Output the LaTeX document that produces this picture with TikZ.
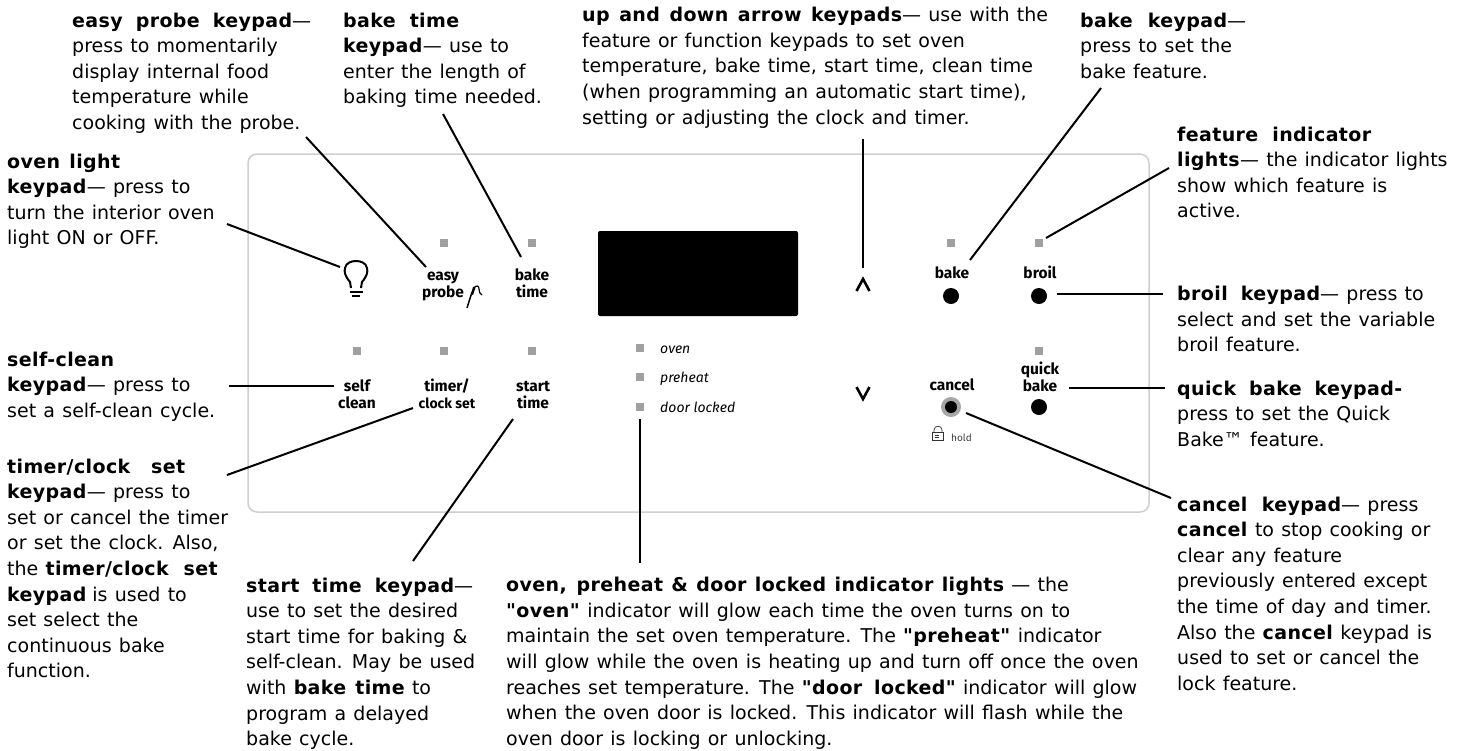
\documentclass[tikz,border=0pt]{standalone}
\usepackage{fontspec}
\newfontfamily\descfont{DejaVu Sans}[WordSpace=1.2,BoldFeatures={LetterSpace=2}]
\newfontfamily\panelfont{Fira Sans}
\definecolor{ledgrey}{HTML}{A0A0A0}
\definecolor{panelgrey}{HTML}{CFCFCF}
\newcommand{\bh}[2]{\hbox to #1pt{\bfseries\spaceskip=2pt plus 1fil #2}}
\tikzset{
  desc/.style={anchor=base west,inner sep=0pt,align=left,text=black,font=\descfont\fontsize{19}{25.6}\selectfont},
  conn/.style={draw=black,line width=2pt},
  led/.style={fill=ledgrey,draw=none,minimum size=8pt,inner sep=0pt,rectangle},
  keyl/.style={anchor=base,inner sep=0pt,text=black,font=\panelfont\bfseries\fontsize{15.5}{17.3}\selectfont},
  keys/.style={anchor=base,inner sep=0pt,text=black,font=\panelfont\bfseries\fontsize{14}{17.3}\selectfont},
  ital/.style={anchor=base west,inner sep=0pt,text=black,font=\panelfont\itshape\fontsize{14}{16}\selectfont},
  btn/.style={circle,fill=black,draw=none,minimum size=16pt,inner sep=0pt},
}
\begin{document}
\begin{tikzpicture}[x=1pt,y=-1pt]
\useasboundingbox (0,0) rectangle (1466,750);
\fill[white] (0,0) rectangle (1466,750);
% panel
\node[draw=panelgrey,line width=1.5pt,rounded corners=9pt,minimum width=901pt,minimum height=358pt,inner sep=0pt] (panel) at (698.5,333) {};
\node[fill=black,rounded corners=2pt,minimum width=200pt,minimum height=85pt,inner sep=0pt] (display) at (698,273.5) {};
% descriptions (placed by the baseline of the last line)
\node[desc] (dprobe) at (72,129.4) {\bh{220}{easy probe keypad}—\\press to momentarily\\display internal food\\temperature while\\cooking with the probe.};
\node[desc] (dbake) at (343,103.8) {\bh{116}{bake time}\\\textbf{keypad}— use to\\enter the length of\\baking time needed.};
\node[desc] (dlight) at (7,244.8) {\bh{113}{oven light}\\\textbf{keypad}— press to\\turn the interior oven\\light ON or OFF.};
\node[desc] (dself) at (7,417.2) {\textbf{self-clean}\\\textbf{keypad}— press to\\set a self-clean cycle.};
\node[desc] (dtimer) at (7,677.8) {\bh{178}{timer/clock set}\\\textbf{keypad}— press to\\set or cancel the timer\\or set the clock. Also,\\the \bh{172}{timer/clock set}\\\bh{78}{keypad} is used to\\set select the\\continuous bake\\function.};
\node[desc] (dstart) at (246,745.6) {\bh{208}{start time keypad}—\\use to set the desired\\start time for baking \&\\self-clean. May be used\\with \bh{111}{bake time} to\\program a delayed\\bake cycle.};
\node[desc] (darrow) at (582,124.1) {\bh{320}{up and down arrow keypads}— use with the\\feature or function keypads to set oven\\temperature, bake time, start time, clean time\\(when programming an automatic start time),\\setting or adjusting the clock and timer.};
\node[desc] (dbk) at (1080,78.2) {\bh{147}{bake keypad}—\\press to set the\\bake feature.};
\node[desc] (dfeat) at (1177,217.8) {\bh{194}{feature indicator}\\\textbf{lights}— the indicator lights\\show which feature is\\active.};
\node[desc] (dbroil) at (1177,351.6) {\bh{143}{broil keypad}— press to\\select and set the variable\\broil feature.};
\node[desc] (dquick) at (1177,446.2) {\bh{225}{quick bake keypad-}\\press to set the Quick\\Bake™ feature.};
\node[desc] (dcancel) at (1177,690.2) {\bh{164}{cancel keypad}— press\\\textbf{cancel} to stop cooking or\\clear any feature\\previously entered except\\the time of day and timer.\\Also the \textbf{cancel} keypad is\\used to set or cancel the\\lock feature.};
\node[desc] (doven) at (506,745.3) {\bh{498}{oven, preheat \& door locked indicator lights} — the\\\textbf{"oven"} indicator will glow each time the oven turns on to\\maintain the set oven temperature. The \textbf{"preheat"} indicator\\will glow while the oven is heating up and turn off once the oven\\reaches set temperature. The \bh{154}{"door locked"} indicator will glow\\when the oven door is locked. This indicator will flash while the\\oven door is locking or unlocking.};
% LEDs
\foreach \n/\x/\y in {l1/444/243,l2/532/243,l3/357/351,l4/444/351,l5/532/351,l6/951/243,l7/1039/243,l8/1039/351,l9/640/348,l10/640/377,l11/640/407}
  \node[led] (\n) at (\x,\y) {};
% key labels
\node[keyl] (kw1) at (443,280) {easy};
\node[keyl] (kw2) at (443,297) {probe};
\node[keyl] (kw3) at (532,280) {bake};
\node[keyl] (kw4) at (532,297) {time};
\node[keyl] (kw5) at (357,391) {self};
\node[keyl] (kw6) at (357,408) {clean};
\node[keyl] (kw7) at (447,391) {timer/};
\node[keys] (kw8) at (447,408) {clock set};
\node[keyl] (kw9) at (533,391) {start};
\node[keyl] (kw10) at (533,408) {time};
\node[keyl] (kw11) at (952,278) {bake};
\node[keyl] (kw12) at (1040,278) {broil};
\node[keyl] (kw13) at (1040,374) {quick};
\node[keyl] (kw14) at (1040,391) {bake};
\node[keyl] (kw15) at (952,390) {cancel};
\node[ital] (i1) at (660,353) {oven};
\node[ital] (i2) at (660,382) {preheat};
\node[ital] (i3) at (660,412) {door locked};
\node[anchor=base west,inner sep=0pt,text=black!75,font=\panelfont\fontsize{10}{12}\selectfont] (hold) at (951,441) {hold};
% buttons
\node[btn] (b1) at (951,296) {};
\node[btn] (b2) at (1039,296) {};
\node[btn] (b3) at (1039,407) {};
\node[circle,fill=gray!70,minimum size=20pt,inner sep=0pt] (b4o) at (951,407) {};
\node[circle,fill=black,minimum size=12pt,inner sep=0pt] (b4) at (951,407) {};
% arrows
\draw[line width=2.6pt] (856.5,291) -- (863,279) -- (869.5,291);
\draw[line width=2.6pt] (856.5,387) -- (863,399) -- (869.5,387);
% bulb
\draw[line width=2pt,line join=round] (351,288) -- (350,282) .. controls (345,276) and (344,272) .. (345,268) .. controls (346,263) and (351,261) .. (356,261) .. controls (361,261) and (366,263) .. (367,268) .. controls (368,272) and (367,276) .. (362,282) -- (361,288);
\draw[line width=1.8pt] (350,292) -- (363,292);
\draw[line width=1.8pt] (352,296) -- (360,296);
% probe icon
\draw[line width=1.5pt] (467,308) -- (472,292);
\fill (471,294) -- (473,287) .. controls (474,286) and (475,286) .. (476,286) -- (473,295) -- cycle;
\draw[line width=1.2pt] (475,286.5) .. controls (477,285) and (479,286) .. (479,289) .. controls (479,292) and (480,294) .. (482,295);
% lock icon
\draw[line width=.7pt,black!80] (932.5,432) rectangle (943.5,440);
\draw[line width=.7pt,black!80] (934,432) -- (934,430) .. controls (934,425) and (942,425) .. (942,430) -- (942,432);
\draw[line width=.7pt,black!80] (934.5,435) -- (939,435) (934.5,437.5) -- (939,437.5);
% connector ends
\foreach \n/\x/\y in {a1/306/137,a2/426/267,a3/443/114,a4/521/257,a5/227/224,a6/340/267,a7/229/386,a8/334/386,a9/227/475,a10/413/408,a11/413/561,a12/513/419,a13/863/139,a14/863/268,a15/1101/88,a16/970/260,a17/1169/168,a18/1046/238,a19/1057/294,a20/1163/294,a21/1069/388,a22/1165/388,a23/966/413,a24/1171/498,a25/640/419,a26/640/563}
  \coordinate (\n) at (\x,\y);
\foreach \p/\q in {a1/a2,a3/a4,a5/a6,a7/a8,a9/a10,a11/a12,a13/a14,a15/a16,a17/a18,a19/a20,a21/a22,a23/a24,a25/a26}
  \draw[conn] (\p) -- (\q);
\end{tikzpicture}
\end{document}
